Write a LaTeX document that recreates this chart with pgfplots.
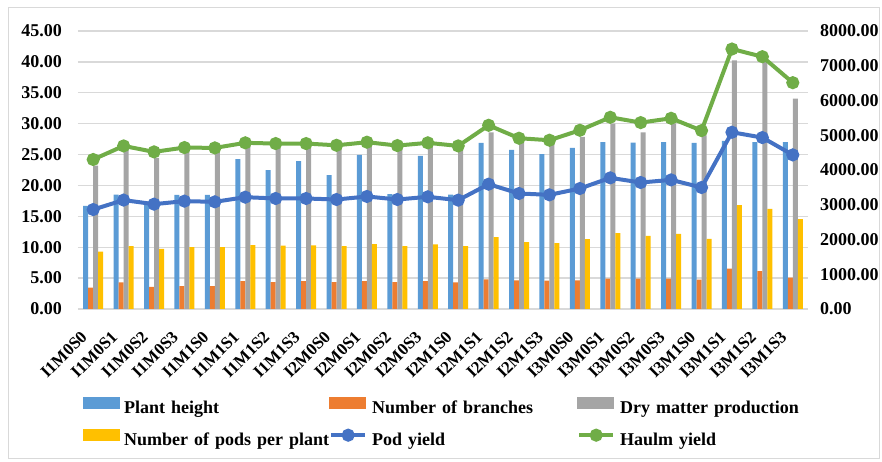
\documentclass[border=0pt]{standalone}
\usepackage{pgfplots}
\pgfplotsset{compat=1.18}
\usepackage{pgfplotstable}
\usepackage{fontspec}
\setmainfont{Liberation Serif}

\definecolor{cPH}{HTML}{5B9BD5}
\definecolor{cNB}{HTML}{ED7D31}
\definecolor{cDM}{HTML}{A5A5A5}
\definecolor{cNP}{HTML}{FFC000}
\definecolor{cPY}{HTML}{4472C4}
\definecolor{cHY}{HTML}{70AD47}
\definecolor{cGrid}{HTML}{D9D9D9}

\pgfplotstableread{
x PH NB DM NP PY HY
0 16.70 3.45 23.20 9.27 2862 4302
1 18.50 4.31 25.80 10.18 3134 4693
2 17.40 3.60 24.46 9.75 3017 4521
3 18.48 3.72 25.90 10.02 3104 4646
4 18.48 3.72 25.70 10.02 3084 4636
5 24.25 4.53 26.50 10.34 3218 4782
6 22.47 4.36 26.10 10.24 3180 4761
7 23.92 4.53 26.10 10.29 3180 4761
8 21.66 4.36 26.00 10.18 3151 4711
9 24.95 4.53 26.24 10.50 3238 4800
10 18.59 4.36 26.00 10.18 3151 4703
11 24.78 4.53 26.24 10.45 3228 4782
12 18.53 4.31 25.70 10.18 3132 4693
13 26.89 4.80 28.60 11.64 3592 5287
14 25.75 4.63 27.05 10.83 3324 4914
15 25.05 4.58 26.80 10.67 3285 4857
16 26.08 4.63 27.86 11.31 3467 5143
17 27.00 4.90 30.00 12.28 3774 5517
18 26.94 4.90 28.60 11.85 3640 5364
19 27.00 4.90 30.00 12.18 3716 5488
20 26.90 4.74 28.10 11.37 3496 5134
21 27.20 6.52 40.25 16.81 5086 7481
22 27.00 6.14 40.00 16.22 4933 7261
23 27.00 5.06 34.05 14.55 4435 6513
}\datatable

\pgfplotsset{
  barleg/.style={legend image code/.code={\fill[##1,draw=none] (0pt,-0.5pt) rectangle (37pt,11.5pt); \path (41pt,0pt);}},
  lineleg/.style={legend image code/.code={\draw[mark repeat=2,mark phase=2,##1,sharp plot] plot coordinates {(2pt,5.5pt) (19pt,5.5pt) (36pt,5.5pt)}; \path (41pt,0pt);}},
}

\begin{document}
\begin{tikzpicture}
\useasboundingbox (-78pt,-153pt) rectangle (804pt,309pt);
\draw[cGrid, line width=1pt] (-69pt,-149pt) rectangle (801pt,301pt);
\begin{axis}[
  at={(0pt,0pt)}, anchor=south west,
  scale only axis, width=730pt, height=278pt,
  xmin=-0.5, xmax=23.5, ymin=0, ymax=45,
  ybar=0pt, bar width=5pt,
  xtick={0,...,23},
  xticklabels={I1M0S0,I1M0S1,I1M0S2,I1M0S3,I1M1S0,I1M1S1,I1M1S2,I1M1S3,I2M0S0,I2M0S1,I2M0S2,I2M0S3,I2M1S0,I2M1S1,I2M1S2,I2M1S3,I3M0S0,I3M0S1,I3M0S2,I3M0S3,I3M1S0,I3M1S1,I3M1S2,I3M1S3},
  ytick={0,5,...,45},
  major tick length=0pt,
  axis line style={draw=none},
  ymajorgrids, grid style={cGrid, line width=1.3pt},
  tick label style={font=\fontsize{18}{21}\selectfont\bfseries},
  yticklabel style={inner sep=0pt, xshift=-16pt, /pgf/number format/fixed, /pgf/number format/fixed zerofill, /pgf/number format/precision=2, /pgf/number format/assume math mode=true},
  xticklabel style={xshift=-9pt, yshift=-25pt, rotate=45, anchor=east, inner sep=0pt, font=\fontsize{17}{20}\selectfont\bfseries},
  legend columns=3,
  legend cell align=left,
  legend style={at={(0.00685,-0.3165)}, anchor=north west, draw=none, fill=none,
    inner sep=0pt, row sep=12pt, column sep=0pt,
    nodes={inner sep=0pt, text width=205pt, align=left, text height=13pt, text depth=4pt,
      font=\fontsize{18}{21}\selectfont\bfseries}},
]
\addplot[fill=cPH, draw=none, barleg] table[x=x, y=PH] {\datatable};
\addlegendentry{Plant height}
\addplot[fill=cNB, draw=none, barleg] table[x=x, y=NB] {\datatable};
\addlegendentry{Number of branches}
\addplot[fill=cDM, draw=none, barleg] table[x=x, y=DM] {\datatable};
\addlegendentry{Dry matter production}
\addplot[fill=cNP, draw=none, barleg] table[x=x, y=NP] {\datatable};
\addlegendentry{\mbox{Number of pods per plant}}
\addlegendimage{color=cPY, line width=4pt, mark=*, mark size=4.5pt, lineleg}
\addlegendentry{Pod yield}
\addlegendimage{color=cHY, line width=4pt, mark=*, mark size=4.5pt, lineleg}
\addlegendentry{Haulm yield}
\end{axis}
\begin{axis}[
  at={(0pt,0pt)}, anchor=south west,
  scale only axis, width=730pt, height=278pt,
  xmin=-0.5, xmax=23.5, ymin=0, ymax=8000,
  axis y line*=right, axis x line=none,
  ytick={0,1000,...,8000},
  major tick length=0pt,
  axis line style={draw=none},
  tick label style={font=\fontsize{18}{21}\selectfont\bfseries},
  yticklabel style={inner sep=0pt, xshift=12pt, /pgf/number format/fixed, /pgf/number format/fixed zerofill, /pgf/number format/precision=2, /pgf/number format/1000 sep={}, /pgf/number format/assume math mode=true},
]
\addplot[color=cPY, line width=4pt, mark=*, mark size=4.5pt] table[x=x, y=PY] {\datatable};
\addplot[color=cHY, line width=4pt, mark=*, mark size=4.5pt] table[x=x, y=HY] {\datatable};
\end{axis}
\end{tikzpicture}
\end{document}
